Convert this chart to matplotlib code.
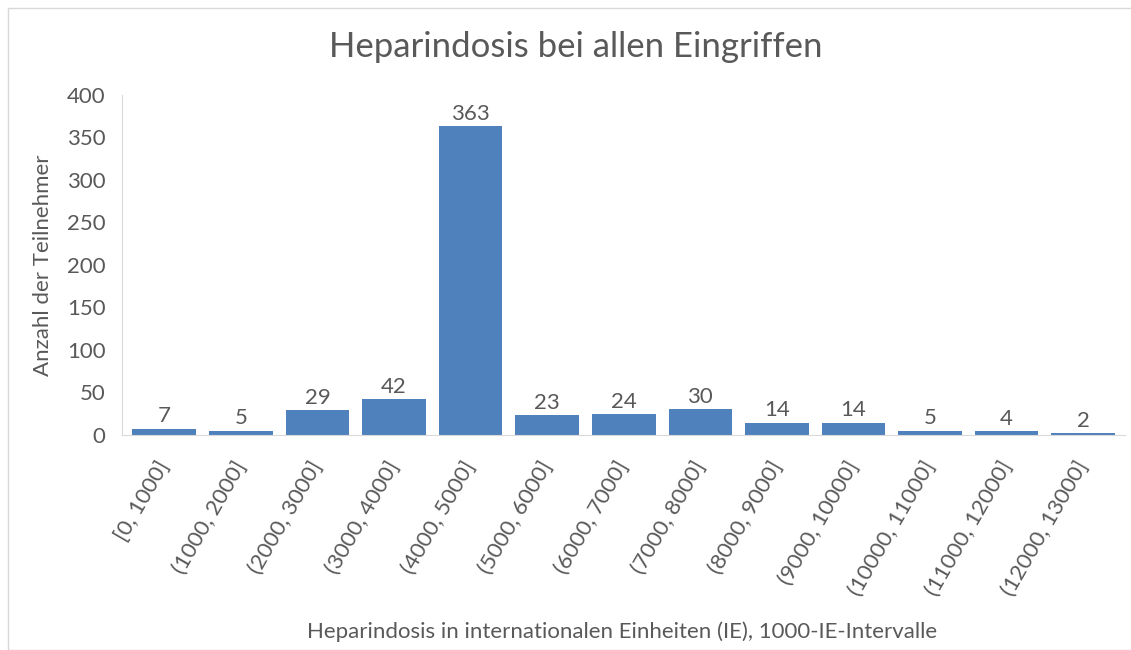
import matplotlib.pyplot as plt
from matplotlib.patches import Rectangle

# data
intervals = ["[0, 1000]", "(1000, 2000]", "(2000, 3000]", "(3000, 4000]", "(4000, 5000]",
             "(5000, 6000]", "(6000, 7000]", "(7000, 8000]", "(8000, 9000]", "(9000, 10000]",
             "(10000, 11000]", "(11000, 12000]", "(12000, 13000]"]
counts = [7, 5, 29, 42, 363, 23, 24, 30, 14, 14, 5, 4, 2]

plt.rcParams['font.family'] = ['Lato', 'DejaVu Sans']
grey = '#595959'

fig = plt.figure(figsize=(11.31, 6.5), dpi=100)
ax = fig.add_axes([0.108, 0.331, 0.887, 0.523])

x = range(len(counts))
bars = ax.bar(x, counts, width=0.83, color='#4F81BD')
for xi, v in zip(x, counts):
    ax.text(xi, v + 3, str(v), ha='center', va='bottom', fontsize=16, color=grey)

ax.set_xlim(-0.55, len(counts) - 0.45)
ax.set_ylim(0, 400)
ax.set_yticks(range(0, 401, 50))
ax.set_xticks(list(x))
ax.set_xticklabels(intervals, rotation=60, ha='right', va='center', rotation_mode='anchor')
ax.tick_params(axis='both', length=0, labelsize=16, colors=grey)
ax.tick_params(axis='y', pad=12)
ax.tick_params(axis='x', pad=20)

for s in ['top', 'right']:
    ax.spines[s].set_visible(False)
for s in ['left', 'bottom']:
    ax.spines[s].set_color('#D9D9D9')

fig.text(0.509, 0.927, 'Heparindosis bei allen Eingriffen', ha='center', va='center',
         fontsize=25, color=grey)
ax.set_ylabel('Anzahl der Teilnehmer', fontsize=16, color=grey, labelpad=10)
fig.text(0.55, 0.018, 'Heparindosis in internationalen Einheiten (IE), 1000-IE-Intervalle',
         ha='center', fontsize=16, color=grey)

# light frame around the chart
fig.patches.append(Rectangle((0.007, 0.0), 0.995, 0.988, transform=fig.transFigure,
                             fill=False, edgecolor='#D9D9D9', linewidth=1))

fig.savefig('out.png', dpi=100)
